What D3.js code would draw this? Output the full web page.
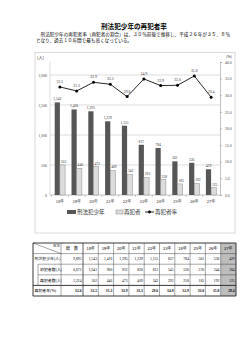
<!DOCTYPE html>
<html><head><meta charset="utf-8">
<script src="https://cdn.jsdelivr.net/npm/d3@7"></script>
<style>html,body{margin:0;padding:0;background:#fff;}svg{display:block;font-family:"Noto Sans CJK JP",sans-serif;}</style>
</head><body><svg id="c" width="250" height="353"></svg>
<script>
const years = ["18年","19年","20年","21年","22年","23年","24年","25年","26年","27年"];
const juvenile = [1543,1426,1395,1229,1155,837,784,561,536,429];
const firstTime = [1041,980,922,820,813,545,526,376,344,304];
const repeat = [502,446,473,409,342,292,258,185,192,125];
const rate = [32.5,31.3,33.9,33.3,29.6,34.9,32.9,33.0,35.8,29.4];
const totals = [9895,6671,3224,32.6];
const leftTicks = [0,500,1000,1500,2000];
const rightTicks = [0,5,10,15,20,25,30,35,40];
const rowLabels = ["刑法犯少年(人)","初犯者数(人)","再犯者数(人)","再犯者率(%)"];

const svg = d3.select("#c");
const fmt = d3.format(",");
const f1 = d3.format(".1f");

// title + text
svg.append("text").attr("x",134).attr("y",29).attr("text-anchor","middle")
  .attr("font-size",6.6).attr("font-weight","bold").text("刑法犯少年の再犯者率");
svg.append("text").attr("x",36).attr("y",36).attr("font-size",4.6)
  .attr("textLength",194).attr("lengthAdjust","spacing")
  .text("　刑法犯少年の再犯者率（再犯者の割合）は、３０％前後で推移し、平成２６年が３５．８％");
svg.append("text").attr("x",36).attr("y",41.5).attr("font-size",4.6)
  .text("となり、過去１０年間で最も高くなっている。");

// chart box
svg.append("rect").attr("x",35).attr("y",52.5).attr("width",200).attr("height",180.5)
  .attr("fill","none").attr("stroke","#d0d0d0").attr("stroke-width",0.8);

const x = d3.scaleBand().domain(years).range([51.5,219.5]).paddingInner(0).paddingOuter(0);
const yL = d3.scaleLinear().domain([0,2000]).range([195,75]);
const yR = d3.scaleLinear().domain([0,40]).range([195,62]);

// gridlines
svg.append("g").selectAll("line").data(leftTicks.slice(1)).join("line")
  .attr("x1",50).attr("x2",220).attr("y1",d=>yL(d)).attr("y2",d=>yL(d))
  .attr("stroke","#c8c8c8").attr("stroke-width",0.6);

// left axis
const gL = svg.append("g").attr("transform","translate(50,0)")
  .call(d3.axisLeft(yL).tickValues(leftTicks).tickFormat(fmt).tickSize(0).tickPadding(3));
gL.select(".domain").remove();
gL.selectAll("text").attr("font-size",3.8).attr("fill","#444").attr("font-family","Liberation Serif, serif");
svg.append("line").attr("x1",50).attr("x2",50).attr("y1",62).attr("y2",195).attr("stroke","#c8c8c8").attr("stroke-width",0.6);

// right axis
const gR = svg.append("g").attr("transform","translate(220,0)")
  .call(d3.axisRight(yR).tickValues(rightTicks).tickFormat(f1).tickSize(2).tickPadding(3));
gR.select(".domain").attr("stroke","#999").attr("stroke-width",0.6);
gR.selectAll(".tick line").attr("stroke","#999").attr("stroke-width",0.6);
gR.selectAll("text").attr("font-size",3.8).attr("fill","#444").attr("font-family","Liberation Serif, serif");

// x axis
svg.append("line").attr("x1",50).attr("x2",220).attr("y1",195).attr("y2",195).attr("stroke","#999").attr("stroke-width",0.6);
svg.append("g").selectAll("line").data(years).join("line")
  .attr("x1",d=>x(d)).attr("x2",d=>x(d)).attr("y1",195).attr("y2",197).attr("stroke","#999").attr("stroke-width",0.5);
svg.append("g").selectAll("text").data(years).join("text")
  .attr("x",d=>x(d)+x.bandwidth()/2).attr("y",202.5).attr("text-anchor","middle")
  .attr("font-size",4).attr("fill","#333").text(d=>d);

// units
svg.append("text").attr("x",37).attr("y",59).attr("font-size",4.2).attr("fill","#333").text("(人)");
svg.append("text").attr("x",226).attr("y",58).attr("font-size",3.8).attr("fill","#333").text("(%)");

const bw = 5.2;
const cx = d => x(d)+x.bandwidth()/2;
// dark bars
svg.append("g").selectAll("rect").data(years).join("rect")
  .attr("x",(d)=>cx(d)-bw).attr("width",bw)
  .attr("y",(d,i)=>yL(juvenile[i])).attr("height",(d,i)=>195-yL(juvenile[i]))
  .attr("fill","#565656");
// light bars
svg.append("g").selectAll("rect").data(years).join("rect")
  .attr("x",(d)=>cx(d)).attr("width",bw)
  .attr("y",(d,i)=>yL(repeat[i])).attr("height",(d,i)=>195-yL(repeat[i]))
  .attr("fill","#dcdcdc").attr("stroke","#8a8a8a").attr("stroke-width",0.5);
// bar labels
svg.append("g").selectAll("text").data(years).join("text")
  .attr("x",d=>cx(d)-bw/2).attr("y",(d,i)=>yL(juvenile[i])-2).attr("text-anchor","middle")
  .attr("font-size",3.6).attr("fill","#333").attr("font-family","Liberation Serif, serif")
  .text((d,i)=>fmt(juvenile[i]));
svg.append("g").selectAll("text").data(years).join("text")
  .attr("x",d=>cx(d)+bw/2+1).attr("y",(d,i)=>yL(repeat[i])-2).attr("text-anchor","middle")
  .attr("font-size",3.6).attr("fill","#333").attr("font-family","Liberation Serif, serif")
  .text((d,i)=>repeat[i]);

// rate line
const line = d3.line().x((d,i)=>cx(years[i])).y(d=>yR(d));
svg.append("path").datum(rate).attr("d",line).attr("fill","none").attr("stroke","#111").attr("stroke-width",0.9);
svg.append("g").selectAll("circle").data(rate).join("circle")
  .attr("cx",(d,i)=>cx(years[i])).attr("cy",d=>yR(d)).attr("r",1.5).attr("fill","#000");
svg.append("g").selectAll("text").data(rate).join("text")
  .attr("x",(d,i)=>cx(years[i])).attr("y",d=>yR(d)-4).attr("text-anchor","middle")
  .attr("font-size",3.8).attr("fill","#333").attr("font-family","Liberation Serif, serif")
  .text(d=>f1(d));

// legend
svg.append("rect").attr("x",67).attr("y",210).attr("width",9).attr("height",4).attr("fill","#565656");
svg.append("text").attr("x",77).attr("y",214.3).attr("font-size",5.5).attr("fill","#333").text("刑法犯少年");
svg.append("rect").attr("x",116).attr("y",210).attr("width",7).attr("height",4).attr("fill","#dcdcdc").attr("stroke","#8a8a8a").attr("stroke-width",0.5);
svg.append("text").attr("x",124).attr("y",214.3).attr("font-size",5.5).attr("fill","#333").text("再犯者");
svg.append("line").attr("x1",145).attr("x2",154).attr("y1",212).attr("y2",212).attr("stroke","#111").attr("stroke-width",0.9);
svg.append("circle").attr("cx",149.5).attr("cy",212).attr("r",1.4).attr("fill","#000");
svg.append("text").attr("x",155).attr("y",214.3).attr("font-size",5.5).attr("fill","#333").text("再犯者率");

// table
const tx0 = 33, tx1 = 61, tx2 = 83, tx3 = 236;
const colX = d3.scaleBand().domain(years).range([tx2,tx3]);
const rowY = d3.scaleBand().domain(["h",...rowLabels]).range([243,296]);
const rh = rowY.bandwidth();
const T = svg.append("g");
T.append("rect").attr("x",colX("27年")).attr("y",243).attr("width",colX.bandwidth()).attr("height",296-243).attr("fill","#bdbdbd");
const vlines = [tx0,tx1,tx2,...years.map(d=>colX(d)),tx3];
T.selectAll("line.v").data(vlines).join("line").attr("class","v")
  .attr("x1",d=>d).attr("x2",d=>d).attr("y1",243).attr("y2",296)
  .attr("stroke","#222").attr("stroke-width",(d,i)=>(i===0||i===vlines.length-1)?0.9:0.4);
const hl = [243, ...rowLabels.map(r=>rowY(r)), 296];
T.selectAll("line.h").data(hl).join("line").attr("class","h")
  .attr("x1",(d,i)=>(i===2||i===3)?tx0+5:tx0).attr("x2",tx3).attr("y1",d=>d).attr("y2",d=>d)
  .attr("stroke","#222").attr("stroke-width",(d,i)=>(i===0||i===4||i===5)?0.9:0.4);
T.append("line").attr("x1",tx0+5).attr("x2",tx0+5).attr("y1",rowY(rowLabels[1])).attr("y2",rowY(rowLabels[3]))
  .attr("stroke","#222").attr("stroke-width",0.4);
T.append("line").attr("x1",tx0).attr("y1",243).attr("x2",tx1).attr("y2",243+rh).attr("stroke","#222").attr("stroke-width",0.4);
T.append("text").attr("x",tx1-1).attr("y",247.3).attr("text-anchor","end").attr("font-size",3.5).text("年次");
T.append("text").attr("x",(tx1+tx2)/2).attr("y",243+rh/2+1.5).attr("text-anchor","middle").attr("font-size",4).text("総　数");
T.selectAll("text.yh").data(years).join("text").attr("class","yh")
  .attr("x",d=>colX(d)+colX.bandwidth()/2).attr("y",243+rh/2+1.5).attr("text-anchor","middle")
  .attr("font-size",4).text(d=>d);
T.selectAll("text.rl").data(rowLabels).join("text").attr("class","rl")
  .attr("x",(d,i)=>(i===1||i===2)?tx0+7:tx0+1.5).attr("y",d=>rowY(d)+rh/2+1.5)
  .attr("font-size",3.9).text(d=>d);
const rows = [juvenile.map(fmt), firstTime.map(fmt), repeat.map(fmt), rate.map(f1)];
const totalText = [fmt(totals[0]),fmt(totals[1]),fmt(totals[2]),f1(totals[3])];
rows.forEach((vals,ri)=>{
  const yy = rowY(rowLabels[ri])+rh/2+1.5;
  const bold = ri===3 ? "bold" : "normal";
  T.append("text").attr("x",tx2-1.5).attr("y",yy).attr("text-anchor","end").attr("font-size",3.7)
    .attr("font-weight",bold).attr("font-family","Liberation Serif, serif").text(totalText[ri]);
  T.selectAll(null).data(vals).join("text")
    .attr("x",(d,i)=>colX(years[i])+colX.bandwidth()-1.3).attr("y",yy).attr("text-anchor","end")
    .attr("font-size",3.7).attr("font-weight",bold).attr("font-family","Liberation Serif, serif").text(d=>d);
});
</script></body></html>
